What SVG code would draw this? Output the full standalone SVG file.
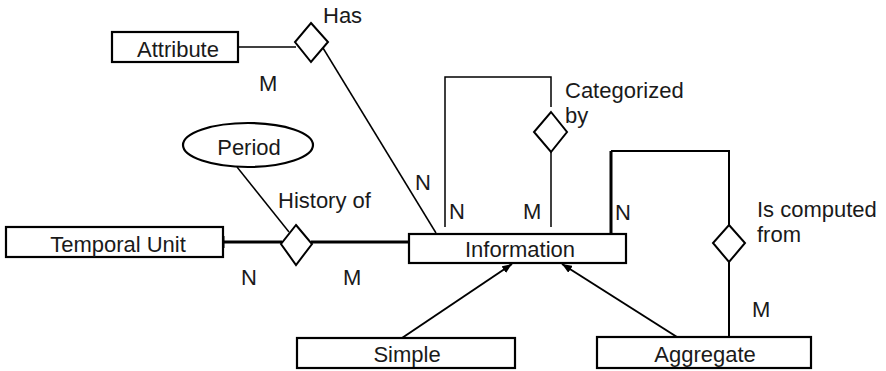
<svg xmlns="http://www.w3.org/2000/svg" width="886" height="371" viewBox="0 0 886 371">
  <defs>
    <marker id="arrow" viewBox="0 0 10 8" refX="10" refY="4" markerWidth="10" markerHeight="8" markerUnits="userSpaceOnUse" orient="auto">
      <path d="M0,0 L10,4 L0,8 Z" fill="#000"/>
    </marker>
  </defs>
  <style>
    .box { fill: #fff; stroke: #000; stroke-width: 2.2; }
    .rel { fill: #fff; stroke: #000; stroke-width: 2; }
    .txt { font-family: "Liberation Sans", Arial, sans-serif; font-size: 22px; fill: #1a1a1a; }
    .mid { text-anchor: middle; }
    .thin { fill: none; stroke: #000; stroke-width: 1.5; }
    .med { fill: none; stroke: #000; stroke-width: 2; }
    .thick { fill: none; stroke: #000; stroke-width: 3; }
  </style>

  <rect width="886" height="371" fill="#fff"/>

  <!-- connectors -->
  <g id="connectors">
    <!-- Has -->
    <line class="thin" x1="238" y1="47" x2="296" y2="47"/>
    <line class="thin" x1="323" y1="48" x2="436" y2="233"/>
    <!-- History of -->
    <line class="thin" x1="237" y1="167" x2="289" y2="232"/>
    <line class="thick" x1="223" y1="242" x2="282" y2="242"/>
    <line class="thick" x1="311" y1="242" x2="410" y2="242"/>
    <line class="thick" x1="223" y1="236" x2="223" y2="248"/>
    <line class="thick" x1="410" y1="236" x2="410" y2="248"/>
    <!-- Categorized by -->
    <polyline class="thin" points="445,227 445,77 551,77 551,107"/>
    <line class="thin" x1="551" y1="152" x2="551" y2="227"/>
    <!-- Is computed from -->
    <line class="thick" x1="611" y1="233" x2="611" y2="151"/>
    <polyline class="med" points="611,151 729,151 729,225"/>
    <line class="med" x1="729" y1="262" x2="729" y2="337"/>
    <!-- generalisation -->
    <line class="med" x1="402" y1="338" x2="512" y2="264" marker-end="url(#arrow)"/>
    <line class="med" x1="677" y1="337" x2="562" y2="264" marker-end="url(#arrow)"/>
  </g>

  <!-- entities -->
  <g id="attribute">
    <rect class="box" x="112" y="32" width="126" height="30"/>
    <text class="txt mid" x="178" y="57">Attribute</text>
  </g>
  <g id="temporal-unit">
    <rect class="box" x="6" y="227" width="217" height="30"/>
    <text class="txt mid" x="118" y="252">Temporal Unit</text>
  </g>
  <g id="information">
    <rect class="box" x="409" y="234" width="217" height="29"/>
    <text class="txt mid" x="520" y="257">Information</text>
  </g>
  <g id="simple">
    <rect class="box" x="297" y="338" width="218" height="30"/>
    <text class="txt mid" x="407" y="362">Simple</text>
  </g>
  <g id="aggregate">
    <rect class="box" x="597" y="337" width="214" height="31"/>
    <text class="txt mid" x="705" y="362">Aggregate</text>
  </g>

  <!-- attribute of relationship -->
  <g id="period">
    <ellipse class="box" cx="248" cy="145" rx="65" ry="22"/>
    <text class="txt mid" x="249" y="155">Period</text>
  </g>

  <!-- relationships -->
  <g id="has">
    <polygon class="rel" points="311,23 328,42 311,62 295,42"/>
    <text class="txt" x="323" y="23">Has</text>
    <text class="txt" x="259" y="91">M</text>
    <text class="txt" x="415" y="190">N</text>
  </g>
  <g id="history-of">
    <polygon class="rel" points="296,225 312,244 296,265 281,244"/>
    <text class="txt" x="278" y="208">History of</text>
    <text class="txt" x="241" y="285">N</text>
    <text class="txt" x="343" y="285">M</text>
  </g>
  <g id="categorized-by">
    <polygon class="rel" points="551,112 567,132 551,152 534,132"/>
    <text class="txt" x="565" y="98">Categorized</text>
    <text class="txt" x="565" y="123">by</text>
    <text class="txt" x="449" y="219">N</text>
    <text class="txt" x="523" y="219">M</text>
  </g>
  <g id="is-computed-from">
    <polygon class="rel" points="729,225 745,243 729,262 713,243"/>
    <text class="txt" x="757" y="217">Is computed</text>
    <text class="txt" x="757" y="242">from</text>
    <text class="txt" x="615" y="220">N</text>
    <text class="txt" x="752" y="317">M</text>
  </g>
</svg>
